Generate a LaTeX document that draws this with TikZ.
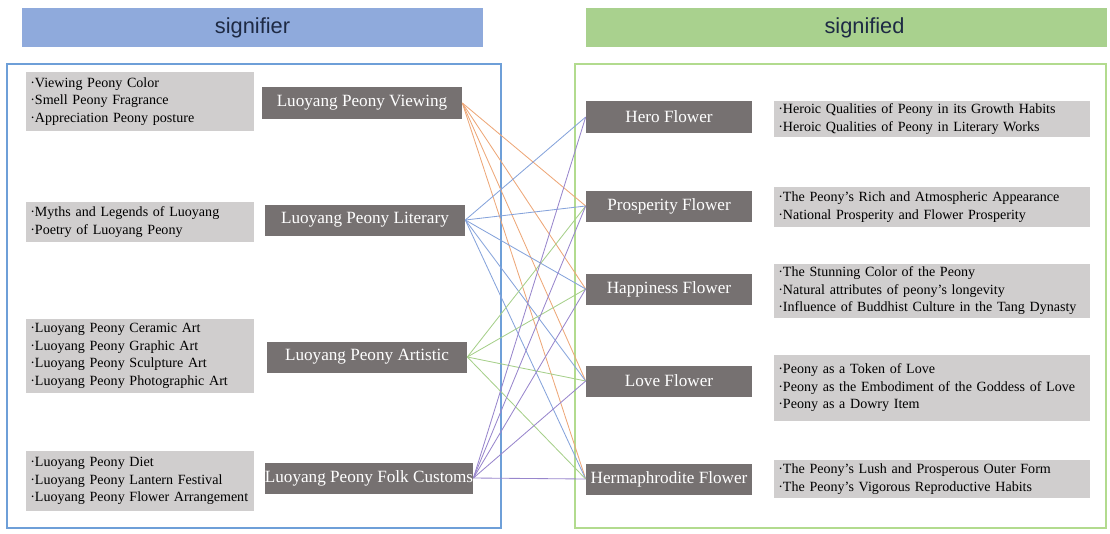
\documentclass[tikz,border=0pt]{standalone}
\usepackage{fontspec}
\setmainfont{Liberation Serif}
\newfontfamily\headfont{Liberation Sans}
\definecolor{headblue}{HTML}{8FAADC}
\definecolor{headgreen}{HTML}{A9D18E}
\definecolor{frameblue}{HTML}{6E9FD8}
\definecolor{framegreen}{HTML}{B2DB8E}
\definecolor{grayfill}{HTML}{D0CECE}
\definecolor{darkfill}{HTML}{767171}
\definecolor{headtext}{HTML}{1E2A44}
\definecolor{lineorange}{HTML}{EDA778}
\definecolor{lineblue}{HTML}{86A3DB}
\definecolor{linegreen}{HTML}{A6CF8A}
\definecolor{linepurple}{HTML}{9886CC}
\begin{document}
\begin{tikzpicture}[x=0.025cm, y=-0.025cm,
  header/.style={minimum height=0.975cm, inner sep=0pt, font=\headfont\fontsize{15.5}{18}\selectfont, text=headtext},
  detail/.style={fill=grayfill, anchor=west, inner xsep=0.1cm, inner ysep=2pt, align=left, font=\fontsize{10}{12.45}\selectfont},
  category/.style={fill=darkfill, text=white, minimum height=0.775cm, inner sep=0pt, font=\fontsize{12.2}{14}\selectfont},
  link/.style={line width=0.6pt}]
  \useasboundingbox (0,0) rectangle (1110,533);

  % Headers
  \node[header, fill=headblue, minimum width=11.525cm] (signifier) at (252.5,27.5) {signifier};
  \node[header, fill=headgreen, minimum width=13.025cm] (signified) at (846.5,27.5) {\hspace*{0.9cm}signified};

  % Frames
  \draw[frameblue, line width=0.8pt] (7,64) rectangle (501,528);
  \draw[framegreen, line width=0.8pt] (575,64) rectangle (1106,528);

  % Left: signifier side
  \node[detail, text width=5.5cm, minimum height=1.475cm] (viewd) at (26,101.5) {·Viewing Peony Color\\·Smell Peony Fragrance\\·Appreciation Peony posture};
  \node[detail, text width=5.5cm, minimum height=0.975cm] (literaryd) at (26,222) {·Myths and Legends of Luoyang\\·Poetry of Luoyang Peony};
  \node[detail, text width=5.5cm, minimum height=1.85cm] (artisticd) at (26,356) {·Luoyang Peony Ceramic Art\\·Luoyang Peony Graphic Art\\·Luoyang Peony Sculpture Art\\·Luoyang Peony Photographic Art};
  \node[detail, text width=5.5cm, minimum height=1.5cm] (folkd) at (26,481) {·Luoyang Peony Diet\\·Luoyang Peony Lantern Festival\\·Luoyang Peony Flower Arrangement};

  \node[category, minimum width=5cm] (view) at (362,103) {Luoyang Peony Viewing};
  \node[category, minimum width=5cm] (literary) at (365,220) {Luoyang Peony Literary};
  \node[category, minimum width=5cm] (artistic) at (367,357) {Luoyang Peony Artistic};
  \node[category, minimum width=5.1cm] (folk) at (369,478) {Luoyang Peony Folk Customs};

  % Right: signified side
  \node[category, minimum width=4.15cm] (hero) at (669,117) {Hero Flower};
  \node[category, minimum width=4.15cm] (prosper) at (669,206) {Prosperity Flower};
  \node[category, minimum width=4.15cm] (happy) at (669,289) {Happiness Flower};
  \node[category, minimum width=4.15cm] (love) at (669,381) {Love Flower};
  \node[category, minimum width=4.15cm] (herma) at (669,479) {Hermaphrodite Flower};

  \node[detail, text width=7.7cm, minimum height=0.9cm] (herod) at (774,119) {·Heroic Qualities of Peony in its Growth Habits\\·Heroic Qualities of Peony in Literary Works};
  \node[detail, text width=7.7cm, minimum height=1.0cm] (prosperd) at (774,207) {·The Peony's Rich and Atmospheric Appearance\\·National Prosperity and Flower Prosperity};
  \node[detail, text width=7.7cm, minimum height=1.3cm] (happyd) at (774,291) {·The Stunning Color of the Peony\\·Natural attributes of peony's longevity\\·Influence of Buddhist Culture in the Tang Dynasty};
  \node[detail, text width=7.7cm, minimum height=1.65cm] (loved) at (774,388) {·Peony as a Token of Love\\·Peony as the Embodiment of the Goddess of Love\\·Peony as a Dowry Item};
  \node[detail, text width=7.7cm, minimum height=0.95cm] (hermad) at (774,479) {·The Peony's Lush and Prosperous Outer Form\\·The Peony's Vigorous Reproductive Habits};

  % Links
  \draw[link, lineorange] (view.east) -- (prosper.west);
  \draw[link, lineorange] (view.east) -- (happy.west);
  \draw[link, lineorange] (view.east) -- (love.west);
  \draw[link, lineorange] (view.east) -- (herma.west);
  \draw[link, lineblue] (literary.east) -- (hero.west);
  \draw[link, lineblue] (literary.east) -- (prosper.west);
  \draw[link, lineblue] (literary.east) -- (happy.west);
  \draw[link, lineblue] (literary.east) -- (love.west);
  \draw[link, lineblue] (literary.east) -- (herma.west);
  \draw[link, linegreen] (artistic.east) -- (prosper.west);
  \draw[link, linegreen] (artistic.east) -- (happy.west);
  \draw[link, linegreen] (artistic.east) -- (love.west);
  \draw[link, linegreen] (artistic.east) -- (herma.west);
  \draw[link, linepurple] (folk.east) -- (hero.west);
  \draw[link, linepurple] (folk.east) -- (prosper.west);
  \draw[link, linepurple] (folk.east) -- (happy.west);
  \draw[link, linepurple] (folk.east) -- (love.west);
  \draw[link, linepurple] (folk.east) -- (herma.west);
\end{tikzpicture}
\end{document}
